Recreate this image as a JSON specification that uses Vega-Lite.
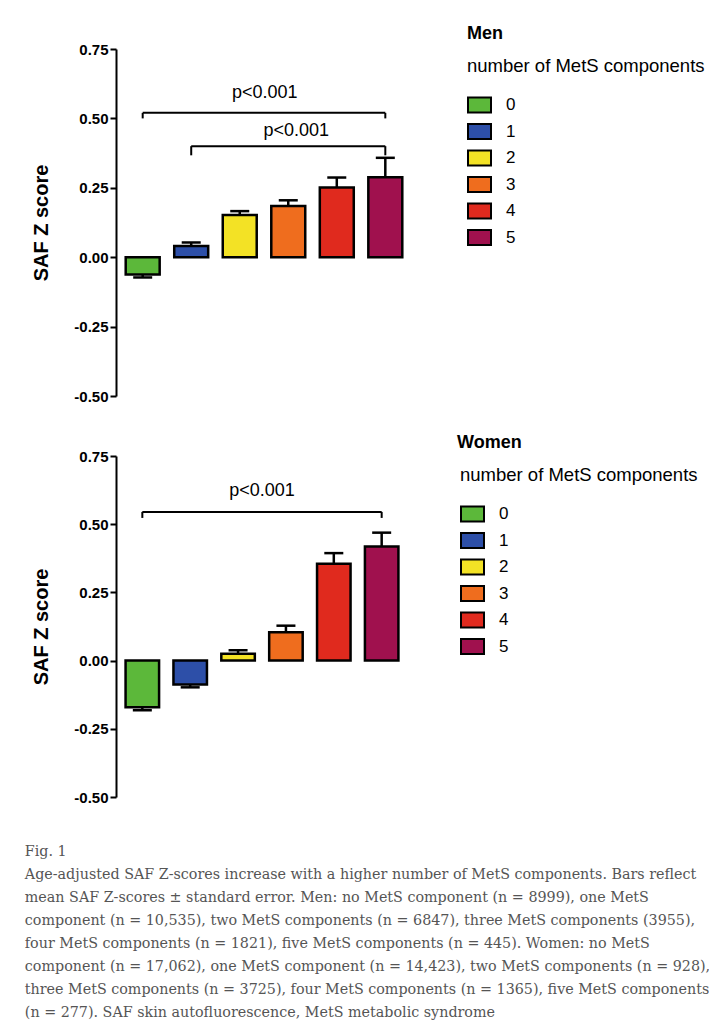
{
  "$schema": "https://vega.github.io/schema/vega-lite/v6.json",
  "background": "white",
  "padding": {"left": 24, "top": 25, "right": 2, "bottom": 2},
  "spacing": 30,
  "resolve": {"scale": {"color": "independent"}, "legend": {"color": "independent"}},
  "config": {
    "view": {"stroke": null},
    "axis": {"domainColor": "black", "domainWidth": 2, "tickColor": "black", "tickWidth": 2, "tickSize": 6, "labelFont": "Liberation Sans", "labelFontSize": 15, "labelFontWeight": "bold", "labelColor": "black", "labelPadding": 2, "titleFont": "Liberation Sans", "titleFontSize": 20, "titleFontWeight": "bold", "titleColor": "black", "grid": false},
    "legend": {"orient": "none", "symbolType": "M-1,-0.65H1V0.65H-1Z", "symbolSize": 529, "symbolStrokeColor": "black", "symbolStrokeWidth": 2, "symbolOpacity": 1, "labelFont": "Liberation Sans", "labelFontSize": 17, "labelColor": "black", "labelOffset": 14, "titleFont": "Liberation Sans", "titleFontSize": 18.5, "titleFontWeight": "normal", "titleColor": "black", "titlePadding": 17, "rowPadding": 2.5, "titleLimit": 400}
  },
  "datasets": {
    "men": [
      {"group": "0", "value": -0.062, "err": -0.073},
      {"group": "1", "value": 0.040, "err": 0.053},
      {"group": "2", "value": 0.152, "err": 0.166},
      {"group": "3", "value": 0.184, "err": 0.205},
      {"group": "4", "value": 0.251, "err": 0.287},
      {"group": "5", "value": 0.288, "err": 0.358}
    ],
    "women": [
      {"group": "0", "value": -0.171, "err": -0.182},
      {"group": "1", "value": -0.088, "err": -0.098},
      {"group": "2", "value": 0.025, "err": 0.038},
      {"group": "3", "value": 0.104, "err": 0.128},
      {"group": "4", "value": 0.355, "err": 0.394},
      {"group": "5", "value": 0.418, "err": 0.469}
    ],
    "menBracket": [
      {"from": "0", "to": "5", "level": 0.52},
      {"from": "1", "to": "5", "level": 0.40}
    ],
    "menBracketTips": [
      {"at": "0", "level": 0.52, "tip": 0.50},
      {"at": "5", "level": 0.52, "tip": 0.50},
      {"at": "1", "level": 0.40, "tip": 0.367},
      {"at": "5", "level": 0.40, "tip": 0.367}
    ],
    "womenBracket": [
      {"from": "0", "to": "5", "level": 0.545}
    ],
    "womenBracketTips": [
      {"at": "0", "level": 0.545, "tip": 0.523},
      {"at": "5", "level": 0.545, "tip": 0.523}
    ]
  },
  "title": {
    "text": [
      "Fig. 1",
      "Age-adjusted SAF Z-scores increase with a higher number of MetS components. Bars reflect",
      "mean SAF Z-scores ± standard error. Men: no MetS component (n = 8999), one MetS",
      "component (n = 10,535), two MetS components (n = 6847), three MetS components (3955),",
      "four MetS components (n = 1821), five MetS components (n = 445). Women: no MetS",
      "component (n = 17,062), one MetS component (n = 14,423), two MetS components (n = 928),",
      "three MetS components (n = 3725), four MetS components (n = 1365), five MetS components",
      "(n = 277). SAF skin autofluorescence, MetS metabolic syndrome"
    ],
    "orient": "bottom", "anchor": "start", "frame": "bounds",
    "font": "DejaVu Serif", "fontSize": 14.3, "fontWeight": "normal", "color": "#555555",
    "lineHeight": 23, "offset": 40, "dx": -7
  },
  "vconcat": [
    {
      "width": 296, "height": 347,
      "title": {"text": "Men", "anchor": "start", "frame": "group", "dx": 351, "offset": -1, "font": "Liberation Sans", "fontSize": 18, "fontWeight": "bold", "color": "black"},
      "layer": [
        {
          "data": {"name": "men"},
          "mark": {"type": "rule", "color": "black", "strokeWidth": 2.5},
          "encoding": {
            "x": {"field": "group", "type": "nominal", "axis": null, "scale": {"domain": ["0","1","2","3","4","5"], "paddingInner": 0.3, "paddingOuter": 0.2}},
            "y": {"field": "value", "type": "quantitative", "scale": {"domain": [-0.5, 0.75], "nice": false, "zero": false}, "axis": {"values": [-0.5, -0.25, 0, 0.25, 0.5, 0.75], "format": ".2f", "labelExpr": "replace(datum.label, '−', '-')", "title": "SAF Z score", "titlePadding": 22}},
            "y2": {"field": "err"}
          }
        },
        {
          "data": {"name": "men"},
          "mark": {"type": "tick", "color": "black", "size": 19, "thickness": 2.5, "opacity": 1},
          "encoding": {
            "x": {"field": "group", "type": "nominal"},
            "y": {"field": "err", "type": "quantitative"}
          }
        },
        {
          "data": {"name": "men"},
          "mark": {"type": "bar", "stroke": "black", "strokeWidth": 2.5, "opacity": 1},
          "encoding": {
            "x": {"field": "group", "type": "nominal"},
            "y": {"field": "value", "type": "quantitative"},
            "color": {"field": "group", "type": "nominal", "scale": {"domain": ["0","1","2","3","4","5"], "range": ["#5cb83a", "#2d4fa8", "#f3e225", "#ef6d1e", "#e02a1e", "#a0114e"]}, "legend": {"title": "number of MetS components", "legendX": 351, "legendY": 8}}
          }
        },
        {
          "mark": {"type": "rule", "color": "black", "strokeWidth": 2},
          "encoding": {"y": {"datum": 0}}
        },
        {
          "data": {"name": "menBracket"},
          "mark": {"type": "rule", "color": "black", "strokeWidth": 2},
          "encoding": {
            "x": {"field": "from", "type": "nominal"},
            "x2": {"field": "to"},
            "y": {"field": "level", "type": "quantitative"}
          }
        },
        {
          "data": {"name": "menBracketTips"},
          "mark": {"type": "rule", "color": "black", "strokeWidth": 2},
          "encoding": {
            "x": {"field": "at", "type": "nominal"},
            "y": {"field": "level", "type": "quantitative"},
            "y2": {"field": "tip"}
          }
        },
        {
          "data": {"values": [{"at": "2", "pos": 0.59, "label": "p<0.001"}]},
          "mark": {"type": "text", "font": "Liberation Sans", "fontSize": 18, "color": "black", "align": "center", "baseline": "middle", "dx": 25},
          "encoding": {
            "x": {"field": "at", "type": "nominal"},
            "y": {"field": "pos", "type": "quantitative"},
            "text": {"field": "label"}
          }
        },
        {
          "data": {"values": [{"at": "3", "pos": 0.454, "label": "p<0.001"}]},
          "mark": {"type": "text", "font": "Liberation Sans", "fontSize": 18, "color": "black", "align": "center", "baseline": "middle", "dx": 8},
          "encoding": {
            "x": {"field": "at", "type": "nominal"},
            "y": {"field": "pos", "type": "quantitative"},
            "text": {"field": "label"}
          }
        }
      ]
    },
    {
      "width": 292, "height": 341,
      "title": {"text": "Women", "anchor": "start", "frame": "group", "dx": 341, "offset": -3, "font": "Liberation Sans", "fontSize": 18, "fontWeight": "bold", "color": "black"},
      "layer": [
        {
          "data": {"name": "women"},
          "mark": {"type": "rule", "color": "black", "strokeWidth": 2.5},
          "encoding": {
            "x": {"field": "group", "type": "nominal", "axis": null, "scale": {"domain": ["0","1","2","3","4","5"], "paddingInner": 0.3, "paddingOuter": 0.2}},
            "y": {"field": "value", "type": "quantitative", "scale": {"domain": [-0.5, 0.75], "nice": false, "zero": false}, "axis": {"values": [-0.5, -0.25, 0, 0.25, 0.5, 0.75], "format": ".2f", "labelExpr": "replace(datum.label, '−', '-')", "title": "SAF Z score", "titlePadding": 22}},
            "y2": {"field": "err"}
          }
        },
        {
          "data": {"name": "women"},
          "mark": {"type": "tick", "color": "black", "size": 19, "thickness": 2.5, "opacity": 1},
          "encoding": {
            "x": {"field": "group", "type": "nominal"},
            "y": {"field": "err", "type": "quantitative"}
          }
        },
        {
          "data": {"name": "women"},
          "mark": {"type": "bar", "stroke": "black", "strokeWidth": 2.5, "opacity": 1},
          "encoding": {
            "x": {"field": "group", "type": "nominal"},
            "y": {"field": "value", "type": "quantitative"},
            "color": {"field": "group", "type": "nominal", "scale": {"domain": ["0","1","2","3","4","5"], "range": ["#5cb83a", "#2d4fa8", "#f3e225", "#ef6d1e", "#e02a1e", "#a0114e"]}, "legend": {"title": "number of MetS components", "legendX": 344, "legendY": 10}}
          }
        },
        {
          "mark": {"type": "rule", "color": "black", "strokeWidth": 2},
          "encoding": {"y": {"datum": 0}}
        },
        {
          "data": {"name": "womenBracket"},
          "mark": {"type": "rule", "color": "black", "strokeWidth": 2},
          "encoding": {
            "x": {"field": "from", "type": "nominal"},
            "x2": {"field": "to"},
            "y": {"field": "level", "type": "quantitative"}
          }
        },
        {
          "data": {"name": "womenBracketTips"},
          "mark": {"type": "rule", "color": "black", "strokeWidth": 2},
          "encoding": {
            "x": {"field": "at", "type": "nominal"},
            "y": {"field": "level", "type": "quantitative"},
            "y2": {"field": "tip"}
          }
        },
        {
          "data": {"values": [{"at": "2", "pos": 0.62, "label": "p<0.001"}]},
          "mark": {"type": "text", "font": "Liberation Sans", "fontSize": 18, "color": "black", "align": "center", "baseline": "middle", "dx": 24},
          "encoding": {
            "x": {"field": "at", "type": "nominal"},
            "y": {"field": "pos", "type": "quantitative"},
            "text": {"field": "label"}
          }
        }
      ]
    }
  ]
}
